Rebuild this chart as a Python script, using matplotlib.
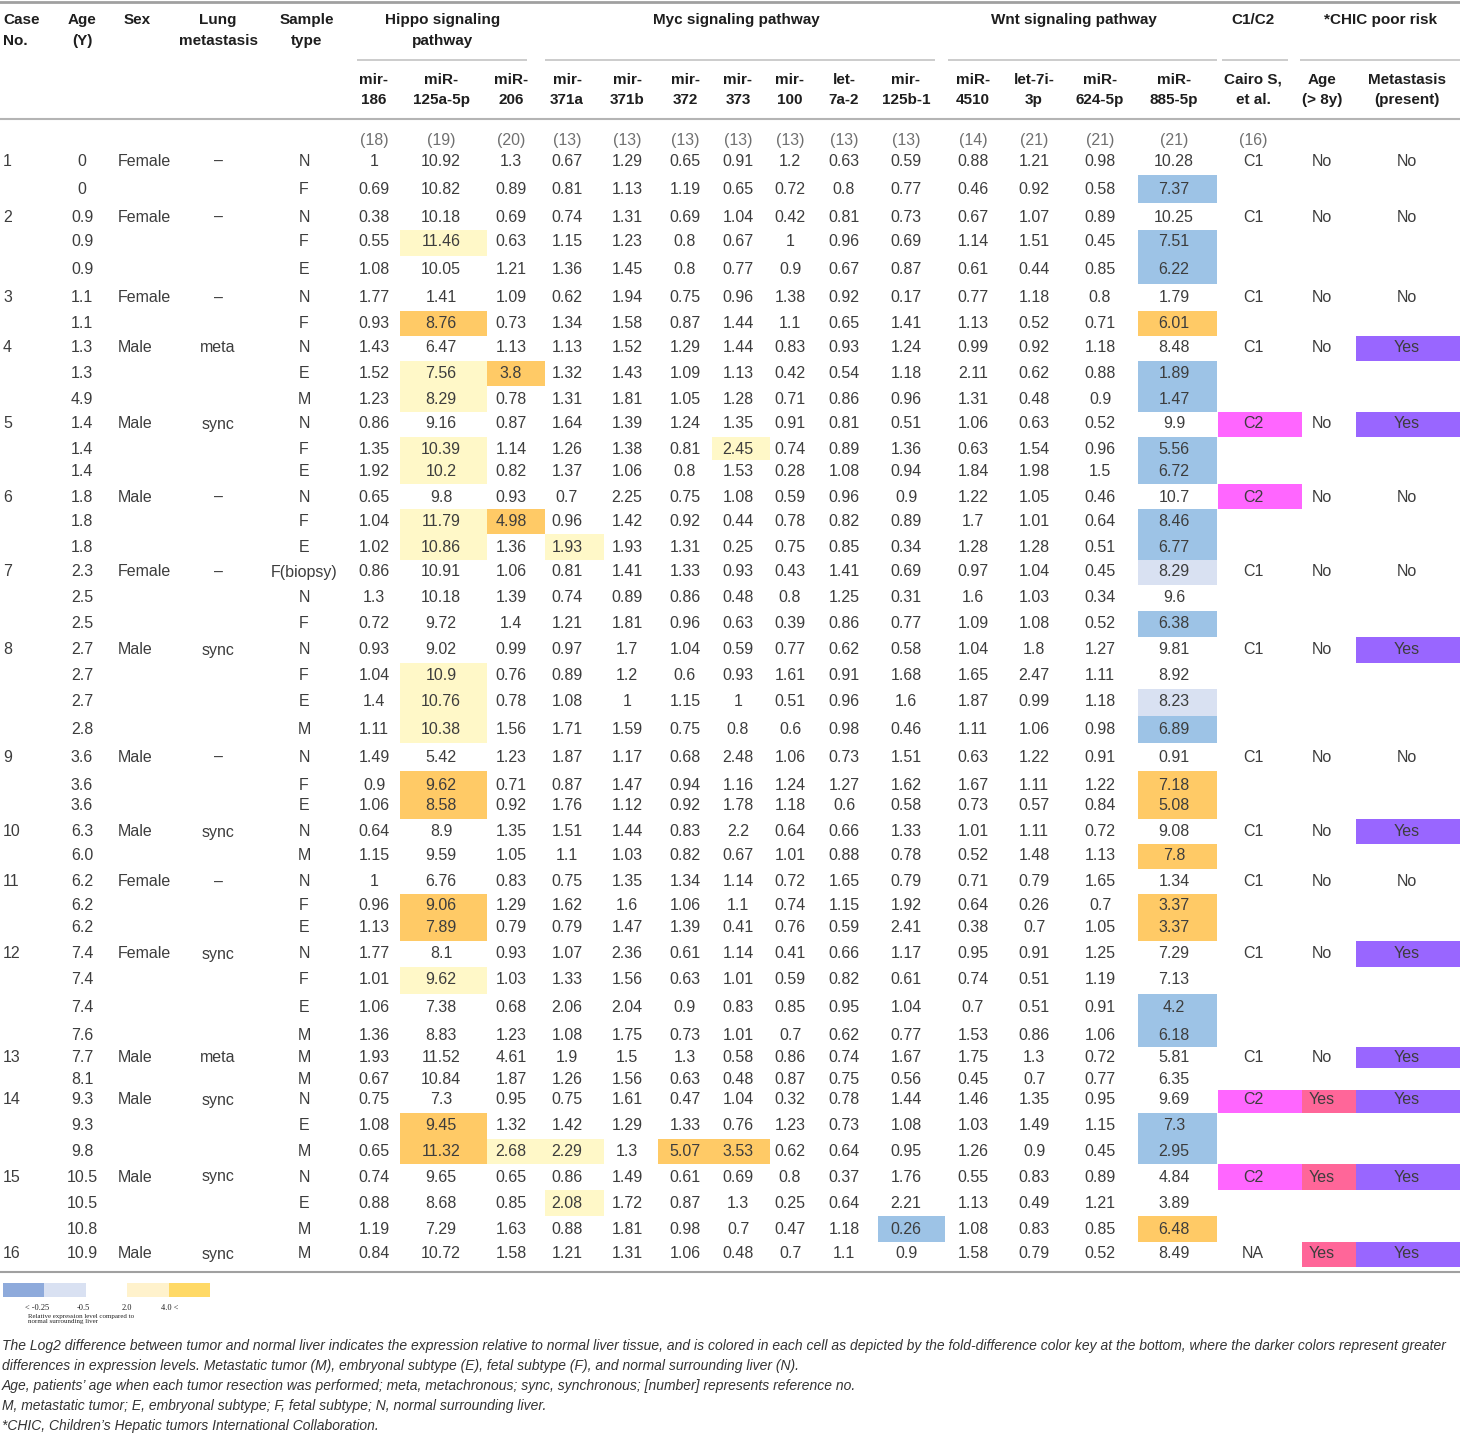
import matplotlib
matplotlib.use('Agg')
import matplotlib.pyplot as plt
from matplotlib.patches import Rectangle

plt.rcParams['font.family'] = ['Liberation Sans', 'DejaVu Sans']

# ---- data -------------------------------------------------------------
mirnas = ['mir-\n186', 'miR-\n125a-5p', 'miR-\n206', 'mir-\n371a', 'mir-\n371b',
          'mir-\n372', 'mir-\n373', 'mir-\n100', 'let-\n7a-2', 'mir-\n125b-1',
          'miR-\n4510', 'let-7i-\n3p', 'miR-\n624-5p', 'miR-\n885-5p']
refs = ['(18)', '(19)', '(20)', '(13)', '(13)', '(13)', '(13)', '(13)', '(13)',
        '(13)', '(14)', '(21)', '(21)', '(21)']
pathways = [('Hippo signaling\npathway', 0, 2), ('Myc signaling pathway', 3, 9),
            ('Wnt signaling pathway', 10, 13)]

case_rows = [2, 3, 2, 3, 3, 3, 3, 4, 3, 2, 3, 4, 2, 3, 3, 1]
sex_case = ['Female', 'Female', 'Female', 'Male', 'Male', 'Male', 'Female', 'Male',
            'Male', 'Male', 'Female', 'Female', 'Male', 'Male', 'Male', 'Male']
lung_case = ['–', '–', '–', 'meta', 'sync', '–', '–', 'sync', '–', 'sync', '–',
             'sync', 'meta', 'sync', 'sync', 'sync']
cairo_case = ['C1', 'C1', 'C1', 'C1', 'C2', 'C2', 'C1', 'C1', 'C1', 'C1', 'C1',
              'C1', 'C1', 'C2', 'C2', 'NA']
age8_case = ['No'] * 13 + ['Yes', 'Yes', 'Yes']
meta_case = ['No', 'No', 'No', 'Yes', 'Yes', 'No', 'No', 'Yes', 'No', 'Yes', 'No',
             'Yes', 'Yes', 'Yes', 'Yes', 'Yes']

ages = ['0', '0', '0.9', '0.9', '0.9', '1.1', '1.1', '1.3', '1.3', '4.9', '1.4',
        '1.4', '1.4', '1.8', '1.8', '1.8', '2.3', '2.5', '2.5', '2.7', '2.7', '2.7',
        '2.8', '3.6', '3.6', '3.6', '6.3', '6.0', '6.2', '6.2', '6.2', '7.4', '7.4',
        '7.4', '7.6', '7.7', '8.1', '9.3', '9.3', '9.8', '10.5', '10.5', '10.8', '10.9']
samples = ['N', 'F', 'N', 'F', 'E', 'N', 'F', 'N', 'E', 'M', 'N', 'F', 'E', 'N', 'F',
           'E', 'F(biopsy)', 'N', 'F', 'N', 'F', 'E', 'M', 'N', 'F', 'E', 'N', 'M',
           'N', 'F', 'E', 'N', 'F', 'E', 'M', 'M', 'M', 'N', 'E', 'M', 'N', 'E', 'M', 'M']

expr = [
    [1, 10.92, 1.3, 0.67, 1.29, 0.65, 0.91, 1.2, 0.63, 0.59, 0.88, 1.21, 0.98, 10.28],
    [0.69, 10.82, 0.89, 0.81, 1.13, 1.19, 0.65, 0.72, 0.8, 0.77, 0.46, 0.92, 0.58, 7.37],
    [0.38, 10.18, 0.69, 0.74, 1.31, 0.69, 1.04, 0.42, 0.81, 0.73, 0.67, 1.07, 0.89, 10.25],
    [0.55, 11.46, 0.63, 1.15, 1.23, 0.8, 0.67, 1, 0.96, 0.69, 1.14, 1.51, 0.45, 7.51],
    [1.08, 10.05, 1.21, 1.36, 1.45, 0.8, 0.77, 0.9, 0.67, 0.87, 0.61, 0.44, 0.85, 6.22],
    [1.77, 1.41, 1.09, 0.62, 1.94, 0.75, 0.96, 1.38, 0.92, 0.17, 0.77, 1.18, 0.8, 1.79],
    [0.93, 8.76, 0.73, 1.34, 1.58, 0.87, 1.44, 1.1, 0.65, 1.41, 1.13, 0.52, 0.71, 6.01],
    [1.43, 6.47, 1.13, 1.13, 1.52, 1.29, 1.44, 0.83, 0.93, 1.24, 0.99, 0.92, 1.18, 8.48],
    [1.52, 7.56, 3.8, 1.32, 1.43, 1.09, 1.13, 0.42, 0.54, 1.18, 2.11, 0.62, 0.88, 1.89],
    [1.23, 8.29, 0.78, 1.31, 1.81, 1.05, 1.28, 0.71, 0.86, 0.96, 1.31, 0.48, 0.9, 1.47],
    [0.86, 9.16, 0.87, 1.64, 1.39, 1.24, 1.35, 0.91, 0.81, 0.51, 1.06, 0.63, 0.52, 9.9],
    [1.35, 10.39, 1.14, 1.26, 1.38, 0.81, 2.45, 0.74, 0.89, 1.36, 0.63, 1.54, 0.96, 5.56],
    [1.92, 10.2, 0.82, 1.37, 1.06, 0.8, 1.53, 0.28, 1.08, 0.94, 1.84, 1.98, 1.5, 6.72],
    [0.65, 9.8, 0.93, 0.7, 2.25, 0.75, 1.08, 0.59, 0.96, 0.9, 1.22, 1.05, 0.46, 10.7],
    [1.04, 11.79, 4.98, 0.96, 1.42, 0.92, 0.44, 0.78, 0.82, 0.89, 1.7, 1.01, 0.64, 8.46],
    [1.02, 10.86, 1.36, 1.93, 1.93, 1.31, 0.25, 0.75, 0.85, 0.34, 1.28, 1.28, 0.51, 6.77],
    [0.86, 10.91, 1.06, 0.81, 1.41, 1.33, 0.93, 0.43, 1.41, 0.69, 0.97, 1.04, 0.45, 8.29],
    [1.3, 10.18, 1.39, 0.74, 0.89, 0.86, 0.48, 0.8, 1.25, 0.31, 1.6, 1.03, 0.34, 9.6],
    [0.72, 9.72, 1.4, 1.21, 1.81, 0.96, 0.63, 0.39, 0.86, 0.77, 1.09, 1.08, 0.52, 6.38],
    [0.93, 9.02, 0.99, 0.97, 1.7, 1.04, 0.59, 0.77, 0.62, 0.58, 1.04, 1.8, 1.27, 9.81],
    [1.04, 10.9, 0.76, 0.89, 1.2, 0.6, 0.93, 1.61, 0.91, 1.68, 1.65, 2.47, 1.11, 8.92],
    [1.4, 10.76, 0.78, 1.08, 1, 1.15, 1, 0.51, 0.96, 1.6, 1.87, 0.99, 1.18, 8.23],
    [1.11, 10.38, 1.56, 1.71, 1.59, 0.75, 0.8, 0.6, 0.98, 0.46, 1.11, 1.06, 0.98, 6.89],
    [1.49, 5.42, 1.23, 1.87, 1.17, 0.68, 2.48, 1.06, 0.73, 1.51, 0.63, 1.22, 0.91, 0.91],
    [0.9, 9.62, 0.71, 0.87, 1.47, 0.94, 1.16, 1.24, 1.27, 1.62, 1.67, 1.11, 1.22, 7.18],
    [1.06, 8.58, 0.92, 1.76, 1.12, 0.92, 1.78, 1.18, 0.6, 0.58, 0.73, 0.57, 0.84, 5.08],
    [0.64, 8.9, 1.35, 1.51, 1.44, 0.83, 2.2, 0.64, 0.66, 1.33, 1.01, 1.11, 0.72, 9.08],
    [1.15, 9.59, 1.05, 1.1, 1.03, 0.82, 0.67, 1.01, 0.88, 0.78, 0.52, 1.48, 1.13, 7.8],
    [1, 6.76, 0.83, 0.75, 1.35, 1.34, 1.14, 0.72, 1.65, 0.79, 0.71, 0.79, 1.65, 1.34],
    [0.96, 9.06, 1.29, 1.62, 1.6, 1.06, 1.1, 0.74, 1.15, 1.92, 0.64, 0.26, 0.7, 3.37],
    [1.13, 7.89, 0.79, 0.79, 1.47, 1.39, 0.41, 0.76, 0.59, 2.41, 0.38, 0.7, 1.05, 3.37],
    [1.77, 8.1, 0.93, 1.07, 2.36, 0.61, 1.14, 0.41, 0.66, 1.17, 0.95, 0.91, 1.25, 7.29],
    [1.01, 9.62, 1.03, 1.33, 1.56, 0.63, 1.01, 0.59, 0.82, 0.61, 0.74, 0.51, 1.19, 7.13],
    [1.06, 7.38, 0.68, 2.06, 2.04, 0.9, 0.83, 0.85, 0.95, 1.04, 0.7, 0.51, 0.91, 4.2],
    [1.36, 8.83, 1.23, 1.08, 1.75, 0.73, 1.01, 0.7, 0.62, 0.77, 1.53, 0.86, 1.06, 6.18],
    [1.93, 11.52, 4.61, 1.9, 1.5, 1.3, 0.58, 0.86, 0.74, 1.67, 1.75, 1.3, 0.72, 5.81],
    [0.67, 10.84, 1.87, 1.26, 1.56, 0.63, 0.48, 0.87, 0.75, 0.56, 0.45, 0.7, 0.77, 6.35],
    [0.75, 7.3, 0.95, 0.75, 1.61, 0.47, 1.04, 0.32, 0.78, 1.44, 1.46, 1.35, 0.95, 9.69],
    [1.08, 9.45, 1.32, 1.42, 1.29, 1.33, 0.76, 1.23, 0.73, 1.08, 1.03, 1.49, 1.15, 7.3],
    [0.65, 11.32, 2.68, 2.29, 1.3, 5.07, 3.53, 0.62, 0.64, 0.95, 1.26, 0.9, 0.45, 2.95],
    [0.74, 9.65, 0.65, 0.86, 1.49, 0.61, 0.69, 0.8, 0.37, 1.76, 0.55, 0.83, 0.89, 4.84],
    [0.88, 8.68, 0.85, 2.08, 1.72, 0.87, 1.3, 0.25, 0.64, 2.21, 1.13, 0.49, 1.21, 3.89],
    [1.19, 7.29, 1.63, 0.88, 1.81, 0.98, 0.7, 0.47, 1.18, 0.26, 1.08, 0.83, 0.85, 6.48],
    [0.84, 10.72, 1.58, 1.21, 1.31, 1.06, 0.48, 0.7, 1.1, 0.9, 1.58, 0.79, 0.52, 8.49],
]

# fold-difference class of each cell: . none, y/o up, l/b down
shade = [
    '..............', '.............b',
    '..............', '.y...........b', '.............b',
    '..............', '.o...........o',
    '..............', '.yo..........b', '.y...........b',
    '..............', '.y....y......b', '.y...........b',
    '..............', '.yo..........b', '.y.y.........b',
    '.............l', '..............', '.............b',
    '..............', '.y............', '.y...........l', '.y...........b',
    '..............', '.o...........o', '.o...........o',
    '..............', '.............o',
    '..............', '.o...........o', '.o...........o',
    '..............', '.y............', '.............b', '.............b',
    '..............', '..............',
    '..............', '.o...........b', '.oyy.oo......b',
    '..............', '...y..........', '.........b...o',
    '..............',
]

key_labels = ['< -0.25', '-0.5', '2.0', '4.0 <']

caption = [
    'The Log2 difference between tumor and normal liver indicates the expression relative to normal liver tissue, '
    'and is colored in each cell as depicted by the fold-difference color key at the bottom, where the darker colors represent greater',
    'differences in expression levels. Metastatic tumor (M), embryonal subtype (E), fetal subtype (F), and normal surrounding liver (N).',
    'Age, patients\u2019 age when each tumor resection was performed; meta, metachronous; sync, synchronous; [number] represents reference no.',
    'M, metastatic tumor; E, embryonal subtype; F, fetal subtype; N, normal surrounding liver.',
    '*CHIC, Children\u2019s Hepatic tumors International Collaboration.',
]

# ---- layout -----------------------------------------------------------
shade_colors = {'y': '#fff8c8', 'o': '#ffca66', 'b': '#9dc3e6', 'l': '#d9e1f2'}
key_colors = ['#8eaadb', '#d9e1f2', '#ffffff', '#fff2cc', '#ffd966']

row_y = [161, 189, 217, 242, 270, 298, 323, 348, 373, 399, 424, 449, 471, 497, 521,
         547, 572, 598, 624, 650, 676, 702, 729, 757, 785, 806, 832, 856, 882, 906,
         928, 954, 980, 1008, 1036, 1057, 1079, 1100, 1126, 1151, 1177, 1203, 1229, 1254]
col_x = [374, 441, 511, 567, 627, 685, 738, 790, 844, 906, 973, 1034, 1100, 1174]
col_edges = [(355, 400), (400, 487), (487, 545), (545, 604), (604, 658), (658, 712),
             (712, 770), (770, 818), (818, 872), (878, 945), (945, 1003), (1003, 1066),
             (1066, 1130), (1138, 1217)]
cairo_edge, age8_edge, meta_edge = (1218, 1302), (1302, 1356), (1356, 1460)
x_case, x_age, x_sex, x_lung, x_samp = 3, 82, 118, 218, 304
x_cairo, x_age8, x_meta = 1253, 1322, 1407

TXT = '#3d3d3d'
HDR = '#1e1e1e'
FS = 11.5
LS = 1.55

fig = plt.figure(figsize=(14.6, 14.35), dpi=100)
ax = fig.add_axes([0, 0, 1, 1])
ax.set_xlim(0, 1460)
ax.set_ylim(1435, 0)
ax.axis('off')

# cell bounds (half way between rows)
tops = [row_y[0] - 13] + [(a + b) / 2 for a, b in zip(row_y[:-1], row_y[1:])]
bots = tops[1:] + [row_y[-1] + 13]

# header
hdr = dict(fontsize=11, fontweight='bold', color=HDR, va='center')
ax.text(x_case, 30.5, 'Case\nNo.', ha='left', linespacing=LS, **hdr)
ax.text(x_age, 30.5, 'Age\n(Y)', ha='center', linespacing=LS, **hdr)
ax.text(137, 20, 'Sex', ha='center', **hdr)
ax.text(x_lung, 30.5, 'Lung\nmetastasis', ha='center', linespacing=LS, **hdr)
ax.text(307, 30.5, 'Sample\ntype', ha='center', linespacing=LS, **hdr)
for name, c0, c1 in pathways:
    xm = (col_x[c0] + col_x[c1]) / 2
    if '\n' in name:
        ax.text(xm, 30.5, name, ha='center', linespacing=LS, **hdr)
    else:
        ax.text(xm, 20, name, ha='center', **hdr)
ax.text(x_cairo, 20, 'C1/C2', ha='center', **hdr)
ax.text(1381, 20, '*CHIC poor risk', ha='center', **hdr)

for lx0, lx1 in [(357, 527), (545, 935), (948, 1217), (1222, 1288), (1300, 1460)]:
    ax.plot([lx0, lx1], [60, 60], color='#c4c4c4', lw=1.2, solid_capstyle='butt')

for x, name in zip(col_x, mirnas):
    ax.text(x, 90, name, ha='center', linespacing=LS, **hdr)
ax.text(x_cairo, 90, 'Cairo S,\net al.', ha='center', linespacing=LS, **hdr)
ax.text(x_age8, 90, 'Age\n(> 8y)', ha='center', linespacing=LS, **hdr)
ax.text(x_meta, 90, 'Metastasis\n(present)', ha='center', linespacing=LS, **hdr)

ax.plot([0, 1460], [2, 2], color='#a0a0a0', lw=2)
ax.plot([0, 1460], [119, 119], color='#b4b4b4', lw=1.5)
ax.plot([0, 1460], [1272, 1272], color='#a0a0a0', lw=1.5)

for x, r in zip(col_x, refs):
    ax.text(x, 140, r, ha='center', va='center', fontsize=FS, color='#707070')
ax.text(x_cairo, 140, '(16)', ha='center', va='center', fontsize=FS, color='#707070')

# shaded cells
for i, codes in enumerate(shade):
    for j, code in enumerate(codes):
        if code != '.':
            x0, x1 = col_edges[j]
            ax.add_patch(Rectangle((x0, tops[i]), x1 - x0, bots[i] - tops[i],
                                   facecolor=shade_colors[code], edgecolor='none'))

# body
cell = dict(fontsize=FS, color=TXT, va='center')
first = 0
for k, n in enumerate(case_rows):
    y = row_y[first]
    ax.text(x_case, y, str(k + 1), ha='left', **cell)
    ax.text(x_sex, y, sex_case[k], ha='left', **cell)
    ax.text(x_lung, y, lung_case[k], ha='center', **cell)
    if cairo_case[k] == 'C2':
        ax.add_patch(Rectangle((cairo_edge[0], tops[first]), cairo_edge[1] - cairo_edge[0],
                               bots[first] - tops[first], facecolor='#ff66ff', edgecolor='none'))
    if age8_case[k] == 'Yes':
        ax.add_patch(Rectangle((age8_edge[0], tops[first]), age8_edge[1] - age8_edge[0],
                               bots[first] - tops[first], facecolor='#ff6699', edgecolor='none'))
    if meta_case[k] == 'Yes':
        ax.add_patch(Rectangle((meta_edge[0], tops[first]), meta_edge[1] - meta_edge[0],
                               bots[first] - tops[first], facecolor='#9966ff', edgecolor='none'))
    ax.text(x_cairo, y, cairo_case[k], ha='center', **cell)
    ax.text(x_age8, y, age8_case[k], ha='center', **cell)
    ax.text(x_meta, y, meta_case[k], ha='center', **cell)
    first += n

for i, y in enumerate(row_y):
    ax.text(x_age, y, ages[i], ha='center', **cell)
    ax.text(x_samp, y, samples[i], ha='center', **cell)
    for x, v in zip(col_x, expr[i]):
        ax.text(x, y, '%g' % v, ha='center', **cell)

# colour key
for i, c in enumerate(key_colors):
    ax.add_patch(Rectangle((3 + i * 41.4, 1283), 41.4, 14, facecolor=c, edgecolor='none'))
for x, lab in zip([37, 83, 127, 170], key_labels):
    ax.text(x, 1308, lab, ha='center', va='center', fontsize=6, color='#222222',
            family=['Liberation Serif', 'DejaVu Serif'])
ax.text(28, 1319, 'Relative expression level compared to\nnormal surrounding liver', ha='left',
        va='center', fontsize=5, color='#222222', linespacing=1.2,
        family=['Liberation Serif', 'DejaVu Serif'])

# caption
for k, line in enumerate(caption):
    ax.text(2, 1346 + k * 20, line, ha='left', va='center', fontsize=10.0,
            style='italic', color='#333333')

fig.savefig('out.png', dpi=100)
